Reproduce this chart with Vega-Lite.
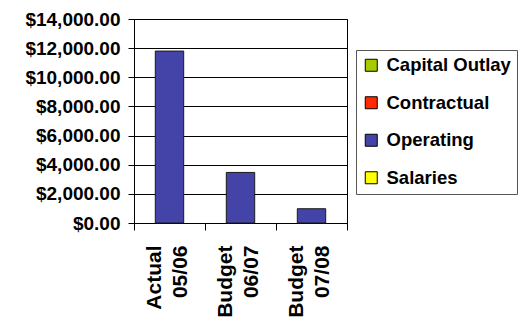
{
  "$schema": "https://vega.github.io/schema/vega-lite/v6.json",
  "autosize": "none",
  "width": 213,
  "height": 204,
  "padding": {"left": 134, "top": 19, "right": 176, "bottom": 104},
  "background": "white",
  "config": {
    "font": "Liberation Sans",
    "view": {"stroke": "#000000", "strokeWidth": 1}
  },
  "data": {
    "values": [
      {"period": "Actual 05/06", "category": "Operating", "amount": 11800},
      {"period": "Budget 06/07", "category": "Operating", "amount": 3470},
      {"period": "Budget 07/08", "category": "Operating", "amount": 980}
    ]
  },
  "mark": {"type": "bar", "width": {"band": 0.4}, "stroke": "#1a1a1a", "strokeWidth": 1},
  "encoding": {
    "x": {
      "field": "period",
      "type": "nominal",
      "sort": null,
      "scale": {"paddingInner": 0, "paddingOuter": 0},
      "axis": {
        "title": null,
        "labelAngle": -90,
        "labelExpr": "split(datum.label, ' ')",
        "labelFont": "Liberation Sans",
        "labelFontSize": 21,
        "labelFontWeight": "bold",
        "labelColor": "#000000",
        "labelLineHeight": 26,
        "labelOffset": -15,
        "labelPadding": 15,
        "tickBand": "extent",
        "tickSize": 7,
        "tickColor": "#000000",
        "domainColor": "#000000",
        "grid": false
      }
    },
    "y": {
      "field": "amount",
      "type": "quantitative",
      "stack": "zero",
      "scale": {"domain": [0, 14000], "nice": false},
      "axis": {
        "title": null,
        "values": [0, 2000, 4000, 6000, 8000, 10000, 12000, 14000],
        "format": "$,.2f",
        "labelFont": "Liberation Sans",
        "labelFontSize": 19,
        "labelFontWeight": "bold",
        "labelColor": "#000000",
        "labelPadding": 8,
        "tickSize": 6,
        "tickColor": "#000000",
        "domainColor": "#000000",
        "grid": true,
        "gridColor": "#000000",
        "gridOpacity": 1,
        "gridWidth": 1
      }
    },
    "color": {
      "field": "category",
      "type": "nominal",
      "scale": {
        "domain": ["Capital Outlay", "Contractual", "Operating", "Salaries"],
        "range": ["#A6CC00", "#FF2A00", "#4444A8", "#FFFF00"]
      },
      "legend": {
        "title": null,
        "orient": "none",
        "legendX": 222,
        "legendY": 31,
        "symbolType": "square",
        "symbolSize": 144,
        "symbolStrokeColor": "#000000",
        "symbolStrokeWidth": 1,
        "symbolOpacity": 1,
        "labelFont": "Liberation Sans",
        "labelFontSize": 18.5,
        "labelFontWeight": "bold",
        "labelColor": "#000000",
        "labelOffset": 6,
        "rowPadding": 18.5,
        "padding": 6,
        "strokeColor": "#555555",
        "fillColor": "white"
      }
    }
  }
}
